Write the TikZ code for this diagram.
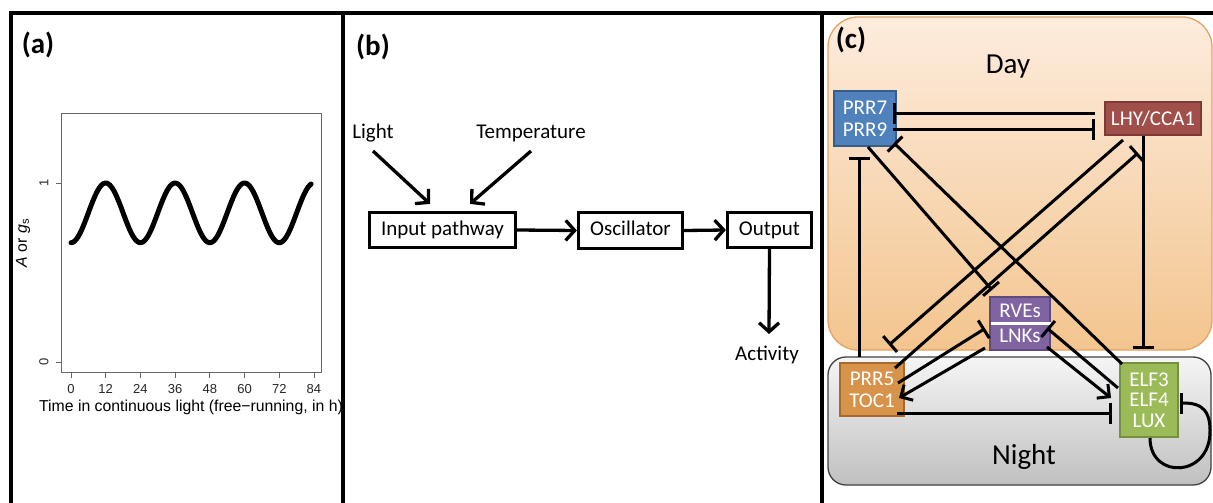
\documentclass[tikz,border=0pt]{standalone}
\usepackage{fontspec}
\setmainfont{Carlito}
\newfontfamily\plotfont{Liberation Sans}
\usetikzlibrary{arrows.meta,calc}

\definecolor{blueF}{HTML}{4F81BD}\definecolor{blueD}{HTML}{385D8A}
\definecolor{redF}{HTML}{A14F4A}\definecolor{redD}{HTML}{7B3A36}
\definecolor{purF}{HTML}{8064A2}\definecolor{purD}{HTML}{5F4A7B}
\definecolor{orF}{HTML}{D8934A}\definecolor{orD}{HTML}{A8692F}
\definecolor{grF}{HTML}{9BBB59}\definecolor{grD}{HTML}{74913F}
\definecolor{dayTop}{HTML}{FDECDD}\definecolor{dayBot}{HTML}{F3C58F}
\definecolor{dayEdge}{HTML}{E3A365}
\definecolor{nightTop}{HTML}{F5F5F5}\definecolor{nightBot}{HTML}{C0C0C0}

\begin{document}
\begin{tikzpicture}[x=1pt,y=-1pt,
  frame/.style={line width=4pt,line join=miter},
  plabel/.style={font=\bfseries\fontsize{29}{32}\selectfont},
  flowbox/.style={draw,line width=3.2pt,font=\fontsize{21}{24}\selectfont,inner sep=0pt,
    text height=14pt,text depth=4pt},
  flowtext/.style={font=\fontsize{21}{24}\selectfont,inner sep=0pt},
  flowarr/.style={line width=3.3pt,-{Straight Barb[length=9pt,width=20pt,line width=3.3pt]}},
  gene/.style={draw,line width=2pt,text=white,align=center,inner sep=0pt,
    font=\fontsize{21}{22}\selectfont},
  act/.style={line width=3pt,-{Straight Barb[length=9pt,width=18pt,line width=3pt]}},
  inh/.style={line width=3pt,-{Bar[width=21pt,line width=3pt]}},
  tick/.style={line width=0.9pt,gray!80!black},
  ticklab/.style={font=\plotfont\fontsize{13}{15}\selectfont,text=black!85,inner sep=0pt}]
\useasboundingbox (0,0) rectangle (1213,503);
\fill[white] (0,0) rectangle (1213,503);

% ---------- panel frames ----------
\draw[frame] (10.5,503) -- (10.5,13) -- (1213,13);
\draw[frame] (343,13) -- (343,503);
\draw[frame] (822,13) -- (822,503);

% ---------- (a) free-running rhythm ----------
\node[plabel] (labA) at (38,45) {(a)};
\draw[tick] (61,113) rectangle (321,372);
\foreach \k in {0,...,7}{
  \pgfmathsetmacro{\tx}{71+34.71*\k}
  \draw[tick] (\tx,372) -- (\tx,378);
  \pgfmathtruncatemacro{\hv}{12*\k}
  \node[ticklab] (xt\k) at (\tx,389) {\hv};
}
\draw[tick] (56,183) -- (61,183);
\draw[tick] (56,362) -- (61,362);
\node[ticklab,rotate=90] (yt1) at (44,183) {1};
\node[ticklab,rotate=90] (yt0) at (44,362) {0};
\node[font=\plotfont\fontsize{15.8}{18}\selectfont,inner sep=0pt] (xlab) at (191,407)
  {Time in continuous light (free−running, in h)};
\node[font=\plotfont\fontsize{15.8}{18}\selectfont,inner sep=0pt,rotate=90] (ylab) at (23,243)
  {\textit{A} or \textit{g}\textsubscript{s}};
\draw[line width=5pt,line cap=round,line join=round]
  plot[domain=0:83,samples=180,smooth] ({71+2.893*\x},{362-179*(0.8333-0.1667*cos(15*\x))});

% ---------- (b) clock pathway ----------
\node[plabel] (labB) at (373,47) {(b)};
\node[flowtext] (light) at (373,133) {Light};
\node[flowtext] (temp) at (531,133) {Temperature};
\node[flowbox,minimum width=146pt,minimum height=35pt] (input) at (442.5,230) {Input pathway};
\node[flowbox,minimum width=104pt,minimum height=36pt] (osc) at (630.5,230.5) {Oscillator};
\node[flowbox,minimum width=84pt,minimum height=35pt] (output) at (769.5,230) {Output};
\node[flowtext] (activity) at (767,355) {Activity};
\draw[flowarr] ($(light.center)+(0,18)$) -- ($(input.north)+(-12.5,-7)$);
\draw[flowarr] ($(temp.center)+(0,18)$) -- ($(input.north)+(27.5,-7)$);
\draw[flowarr] (input.east) -- (osc.west);
\draw[flowarr] (osc.east) -- (output.west);
\draw[flowarr] (output.south) -- ($(activity.center)+(2,-21)$);

% ---------- (c) day / night network ----------
\draw[top color=dayTop,bottom color=dayBot,draw=dayEdge,line width=1.3pt,rounded corners=30pt]
  (828,17) rectangle (1212,350);
\draw[top color=nightTop,bottom color=nightBot,draw=black!75,line width=1.3pt,rounded corners=18pt]
  (828,357) rectangle (1211,485);
\node[plabel] (labC) at (851,40) {(c)};
\node[font=\fontsize{29}{32}\selectfont] (day) at (1008,67) {Day};
\node[font=\fontsize{29}{32}\selectfont] (night) at (1024,457) {Night};

\node[gene,fill=blueF,draw=blueD,minimum width=62pt,minimum height=55pt] (prr79) at (865,118.5) {PRR7\\PRR9};
\node[gene,fill=redF,draw=redD,minimum width=96pt,minimum height=33pt] (lhy) at (1153,118.5) {LHY/CCA1};
\node[gene,fill=purF,draw=purD,minimum width=60pt,minimum height=53pt,
  font=\fontsize{21}{25}\selectfont] (rves) at (1020,323.5) {RVEs\\LNKs};
\draw[white,line width=2.5pt] ($(rves.west)+(2,0)$) -- ($(rves.east)+(0,0)$);
\node[gene,fill=orF,draw=orD,minimum width=64pt,minimum height=53pt] (prr5) at (872,389.5) {PRR5\\TOC1};
\node[gene,fill=grF,draw=grD,minimum width=58pt,minimum height=74pt,
  font=\fontsize{21}{20.5}\selectfont] (elf) at (1149,400) {ELF3\\ELF4\\LUX};

% repressions between the morning genes
\draw[inh] ($(lhy.west)+(-9,-5.5)$) -- ($(prr79.east)+(-4,-5.5)$);
\draw[inh] ($(prr79.east)+(-4,10.5)$) -- ($(lhy.west)+(-9,10.5)$);
% vertical links
\draw[inh] ($(prr5.north)+(-13,-5)$) -- ($(prr79.south)+(-6,10)$);
\draw[inh] ($(lhy.south)+(-10,0)$) -- ($(elf.north)+(-6,-13)$);
% crossing diagonals
\draw[inh] ($(prr79.south)+(3,0)$) -- ($(rves.north)+(-28,-6)$);
\draw[inh] ($(elf.north west)+(3,2)$) -- ($(prr79.south east)+(-3,-4)$);
\draw[inh] ($(lhy.south west)+(19,4)$) -- ($(prr5.north)+(17,-17)$);
\draw[inh] ($(prr5.north east)+(-10,6)$) -- ($(lhy.south)+(-15,17)$);
% links around RVEs/LNKs
\draw[inh] ($(prr5.east)+(-7,-6.5)$) -- ($(rves.west)+(-4,5)$);
\draw[act] ($(rves.south west)+(-4,-3)$) -- ($(prr5.east)+(-6,8.5)$);
\draw[inh] ($(elf.west)+(-1,-12)$) -- ($(rves.east)+(-4,4.5)$);
\draw[act] ($(rves.south east)+(-4,-4)$) -- ($(elf.west)+(-8,-2)$);
% evening links
\draw[inh] ($(prr5.south east)+(-8,-4)$) -- ($(elf.west)+(-7,13)$);
\draw[inh] ($(elf.south)+(1,0)$) .. controls ($(elf.south)+(1,42)$) and ($(elf.south east)+(32,40)$) ..
  ($(elf.east)+(31,30)$) .. controls ($(elf.east)+(31,4)$) and ($(elf.east)+(15,3)$) .. ($(elf.east)+(1,3)$);
\end{tikzpicture}
\end{document}
